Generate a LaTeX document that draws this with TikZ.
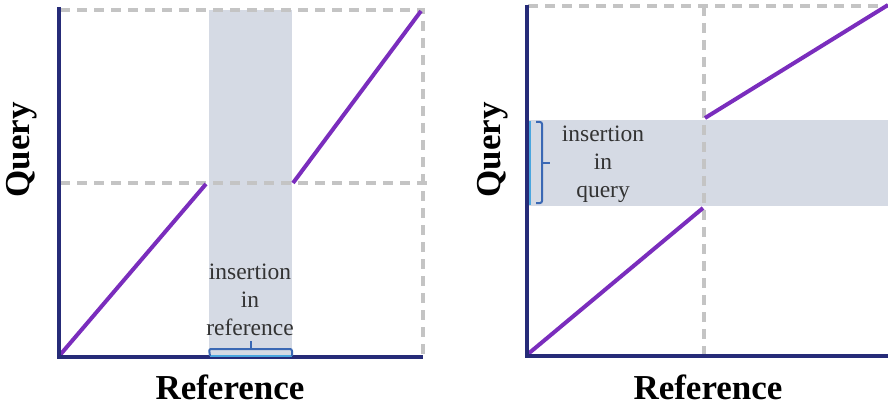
\documentclass[tikz,border=0pt]{standalone}
\usepackage{fontspec}
\setmainfont{Liberation Serif}
\definecolor{axisblue}{HTML}{262B78}
\definecolor{pathviolet}{HTML}{7A2DBD}
\definecolor{bandgray}{HTML}{D5DAE4}
\definecolor{gridgray}{HTML}{C4C4C4}
\definecolor{braceblue}{HTML}{3A68B4}
\definecolor{lightblue}{HTML}{4AA6DF}
\tikzset{
  axisline/.style={draw=axisblue, line width=4.2pt, line cap=rect},
  alignline/.style={draw=pathviolet, line width=4pt},
  guide/.style={draw=gridgray, line width=3.4pt, dash pattern=on 10pt off 7pt},
  band/.style={fill=bandgray, draw=none},
  bracemark/.style={draw=braceblue, line width=2pt, rounded corners=2pt},
  marked/.style={draw=lightblue, line width=2.6pt},
  axislabel/.style={font=\fontsize{35}{40}\selectfont\bfseries, text=black, inner sep=0pt},
  notelabel/.style={font=\fontsize{23.5}{28}\selectfont, text=black!80, align=center, inner sep=0pt}
}
\begin{document}
\begin{tikzpicture}[x=1pt, y=-1pt]
\useasboundingbox (0,0) rectangle (888,406);

% ---------- left panel: insertion in the reference ----------
\coordinate (Lo) at (59,357);
\coordinate (Lx) at (421,357);
\coordinate (Ly) at (59,9);
\coordinate (Ltl) at (60,10);
\coordinate (Ltr) at (423,10);
\coordinate (Lbr) at (423,357);
\coordinate (Lml) at (60,183);
\coordinate (Lmr) at (428,183);
\coordinate (Lb1) at (209,10);
\coordinate (Lb2) at (292,357);
\coordinate (La1) at (60,355);
\coordinate (La2) at (206,184);
\coordinate (La3) at (293,183);
\coordinate (La4) at (421,11);
\coordinate (Lk1) at (210,356);
\coordinate (Lk2) at (292,356);

\fill[band] (Lb1) rectangle (Lb2);
\draw[guide] (Ltl) -- (Ltr) -- (Lbr);
\draw[guide] (Lml) -- (Lmr);
\draw[alignline] (La1) -- (La2);
\draw[alignline] (La3) -- (La4);
\draw[axisline] (Ly) -- (Lo) -- (Lx);
\draw[marked] (Lk1) -- (Lk2);
% square bracket over the inserted stretch of the reference axis
\draw[bracemark] (Lk1) -- (209,349) -- (251,349) -- (292,349) -- (Lk2);
\draw[braceblue, line width=2pt] (251,349) -- (251,341);
\node[notelabel] (Lnote) at (250,300) {insertion\\in\\reference};
\node[axislabel, rotate=90] (Lq) at (22,150) {Query};
\node[axislabel] (Lr) at (230,387) {Reference};

% ---------- right panel: insertion in the query ----------
\coordinate (Ro) at (527,356);
\coordinate (Rx) at (888,356);
\coordinate (Ry) at (527,7);
\coordinate (Rtl) at (528,6);
\coordinate (Rtr) at (888,6);
\coordinate (Rvt) at (704,6);
\coordinate (Rvb) at (704,362);
\coordinate (Rb1) at (527,120);
\coordinate (Rb2) at (888,206);
\coordinate (Ra1) at (528,354);
\coordinate (Ra2) at (703,208);
\coordinate (Ra3) at (705,118);
\coordinate (Ra4) at (888,5);
\coordinate (Rk1) at (530,205);
\coordinate (Rk2) at (530,121);

\fill[band] (Rb1) rectangle (Rb2);
\draw[guide] (Rtl) -- (Rtr);
\draw[guide] (Rvt) -- (Rvb);
\draw[alignline] (Ra1) -- (Ra2);
\draw[alignline] (Ra3) -- (Ra4);
\draw[axisline] (Ry) -- (Ro) -- (Rx);
\draw[marked] (Rk1) -- (Rk2);
% square bracket beside the inserted stretch of the query axis
\draw[bracemark] (536,122) -- (542,122) -- (542,163) -- (542,203) -- (536,203);
\draw[braceblue, line width=2pt] (542,163) -- (550,163);
\node[notelabel] (Rnote) at (603,164) {insertion\\in\\query};
\node[axislabel, rotate=90] (Rq) at (493,150) {Query};
\node[axislabel] (Rr) at (708,387) {Reference};
\end{tikzpicture}
\end{document}
